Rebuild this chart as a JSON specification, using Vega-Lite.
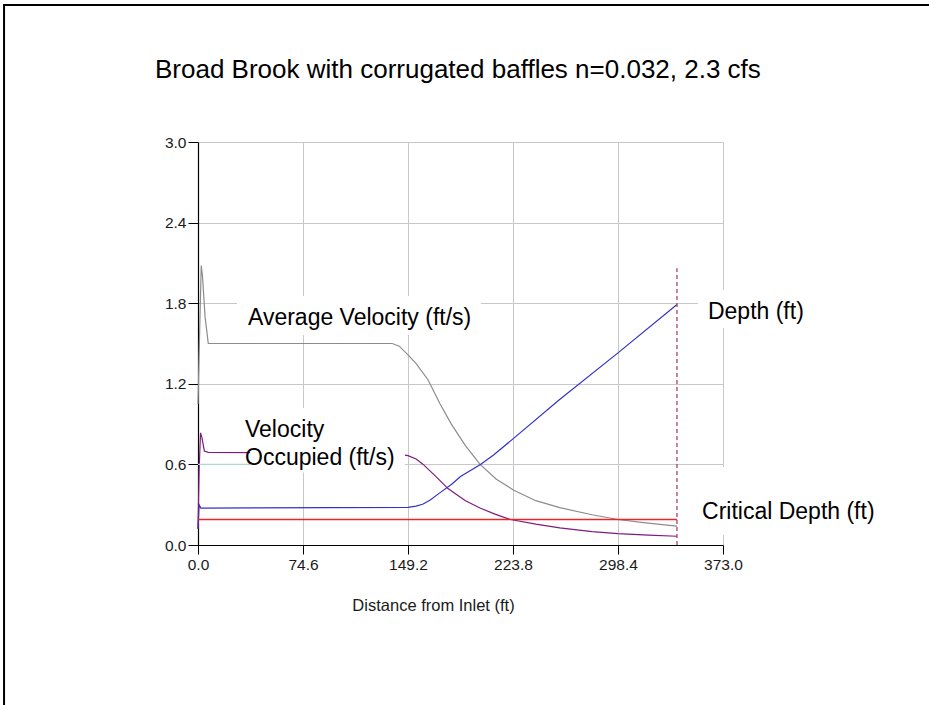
{
  "$schema": "https://vega.github.io/schema/vega-lite/v6.json",
  "width": 525,
  "height": 403,
  "autosize": {"type": "none"},
  "padding": {"left": 198, "top": 142, "right": 206, "bottom": 160},
  "background": "white",
  "config": {
    "view": {"stroke": null},
    "font": "Liberation Sans"
  },
  "title": {
    "text": "Broad Brook with corrugated baffles n=0.032, 2.3 cfs",
    "font": "Liberation Sans",
    "fontSize": 26,
    "fontWeight": "normal",
    "color": "#000",
    "anchor": "start",
    "frame": "group",
    "dx": -43,
    "baseline": "alphabetic",
    "offset": -100
  },
  "datasets": {
    "lines": [
      {"dist": 0, "val": 1.05, "s": "avg"},
      {"dist": 1.2, "val": 1.6, "s": "avg"},
      {"dist": 2.3, "val": 2.08, "s": "avg"},
      {"dist": 3.2, "val": 2.0, "s": "avg"},
      {"dist": 5, "val": 1.7, "s": "avg"},
      {"dist": 7.3, "val": 1.5, "s": "avg"},
      {"dist": 138, "val": 1.5, "s": "avg"},
      {"dist": 143, "val": 1.48, "s": "avg"},
      {"dist": 149.2, "val": 1.415, "s": "avg"},
      {"dist": 155, "val": 1.35, "s": "avg"},
      {"dist": 163.4, "val": 1.23, "s": "avg"},
      {"dist": 172, "val": 1.05, "s": "avg"},
      {"dist": 180, "val": 0.9, "s": "avg"},
      {"dist": 190, "val": 0.74, "s": "avg"},
      {"dist": 200.4, "val": 0.6, "s": "avg"},
      {"dist": 212, "val": 0.49, "s": "avg"},
      {"dist": 224, "val": 0.41, "s": "avg"},
      {"dist": 240, "val": 0.33, "s": "avg"},
      {"dist": 257, "val": 0.278, "s": "avg"},
      {"dist": 280, "val": 0.225, "s": "avg"},
      {"dist": 298.4, "val": 0.19, "s": "avg"},
      {"dist": 318, "val": 0.165, "s": "avg"},
      {"dist": 340.3, "val": 0.14, "s": "avg"},
      {"dist": 0, "val": 0.12, "s": "depth"},
      {"dist": 0.8, "val": 0.3, "s": "depth"},
      {"dist": 2, "val": 0.275, "s": "depth"},
      {"dist": 149.2, "val": 0.28, "s": "depth"},
      {"dist": 155, "val": 0.29, "s": "depth"},
      {"dist": 160, "val": 0.305, "s": "depth"},
      {"dist": 165, "val": 0.335, "s": "depth"},
      {"dist": 172, "val": 0.39, "s": "depth"},
      {"dist": 180, "val": 0.45, "s": "depth"},
      {"dist": 186.5, "val": 0.51, "s": "depth"},
      {"dist": 200.7, "val": 0.6, "s": "depth"},
      {"dist": 210, "val": 0.67, "s": "depth"},
      {"dist": 223.8, "val": 0.79, "s": "depth"},
      {"dist": 256.5, "val": 1.08, "s": "depth"},
      {"dist": 298.4, "val": 1.43, "s": "depth"},
      {"dist": 340.3, "val": 1.79, "s": "depth"},
      {"dist": 0, "val": 0.12, "s": "vel"},
      {"dist": 0.8, "val": 0.56, "s": "vel"},
      {"dist": 1.8, "val": 0.835, "s": "vel"},
      {"dist": 2.8, "val": 0.8, "s": "vel"},
      {"dist": 4.5, "val": 0.7, "s": "vel"},
      {"dist": 7.3, "val": 0.69, "s": "vel"},
      {"dist": 140, "val": 0.68, "s": "vel"},
      {"dist": 149.2, "val": 0.665, "s": "vel"},
      {"dist": 155, "val": 0.64, "s": "vel"},
      {"dist": 160, "val": 0.6, "s": "vel"},
      {"dist": 165, "val": 0.55, "s": "vel"},
      {"dist": 170, "val": 0.5, "s": "vel"},
      {"dist": 177.6, "val": 0.42, "s": "vel"},
      {"dist": 190, "val": 0.33, "s": "vel"},
      {"dist": 200.4, "val": 0.275, "s": "vel"},
      {"dist": 211, "val": 0.23, "s": "vel"},
      {"dist": 222, "val": 0.19, "s": "vel"},
      {"dist": 240, "val": 0.155, "s": "vel"},
      {"dist": 257, "val": 0.127, "s": "vel"},
      {"dist": 280, "val": 0.1, "s": "vel"},
      {"dist": 298.4, "val": 0.085, "s": "vel"},
      {"dist": 320, "val": 0.073, "s": "vel"},
      {"dist": 340.3, "val": 0.065, "s": "vel"},
      {"dist": 0, "val": 0.6, "s": "mark"},
      {"dist": 37, "val": 0.6, "s": "mark"}
    ],
    "crit": [
      {"dist": 0, "val": 0.19},
      {"dist": 340.3, "val": 0.19}
    ],
    "boxes": [
      {"x": 27.7, "x2": 201, "y": 1.563, "y2": 1.854},
      {"x": 37, "x2": 147, "y": 0.54, "y2": 1.02},
      {"x": 355.2, "x2": 430, "y": 1.615, "y2": 1.898},
      {"x": 357, "x2": 520, "y": 0.075, "y2": 0.58}
    ],
    "labels": [
      {"x": 35.5, "y": 1.69, "t": "Average Velocity (ft/s)"},
      {"x": 33.4, "y": 0.856, "t": "Velocity"},
      {"x": 33.4, "y": 0.648, "t": "Occupied (ft/s)"},
      {"x": 362.3, "y": 1.735, "t": "Depth (ft)"},
      {"x": 358.1, "y": 0.246, "t": "Critical Depth (ft)"}
    ],
    "outlet": [
      {"x": 340.3, "y": 0, "y2": 2.06}
    ],
    "frame": [
      {"x": -137.8, "x2": 700, "y": 4.02, "y2": -3}
    ]
  },
  "layer": [
    {
      "data": {"name": "lines"},
      "mark": {"type": "line", "strokeWidth": 1.2, "interpolate": "linear"},
      "encoding": {
        "x": {
          "field": "dist",
          "type": "quantitative",
          "scale": {"domain": [0, 373], "nice": false, "zero": false},
          "axis": {
            "values": [0, 74.6, 149.2, 223.8, 298.4, 373],
            "format": ".1f",
            "grid": true,
            "gridColor": "#c8c8c8",
            "gridWidth": 1,
            "domainColor": "#000",
            "domainWidth": 1.2,
            "tickColor": "#000",
            "tickSize": 9,
            "labelFont": "Liberation Sans",
            "labelFontSize": 15.5,
            "labelColor": "#1a1a1a",
            "labelPadding": 3,
            "labelFlush": false,
            "labelOverlap": false,
            "title": "Distance from Inlet (ft)",
            "titleFont": "Liberation Sans",
            "titleFontSize": 16.5,
            "titleFontWeight": "normal",
            "titleColor": "#1a1a1a",
            "titleX": 235,
            "titleY": 60,
            "titleBaseline": "middle"
          }
        },
        "y": {
          "field": "val",
          "type": "quantitative",
          "scale": {"domain": [0, 3], "nice": false},
          "axis": {
            "values": [0, 0.6, 1.2, 1.8, 2.4, 3.0],
            "format": ".1f",
            "grid": true,
            "gridColor": "#c8c8c8",
            "gridWidth": 1,
            "domainColor": "#000",
            "domainWidth": 1.2,
            "tickColor": "#000",
            "tickSize": 10,
            "labelFont": "Liberation Sans",
            "labelFontSize": 15.5,
            "labelColor": "#1a1a1a",
            "labelPadding": 2,
            "labelFlush": false,
            "labelOverlap": false,
            "title": null
          }
        },
        "color": {
          "field": "s",
          "type": "nominal",
          "scale": {
            "domain": ["avg", "depth", "vel", "mark"],
            "range": ["#8c8c8c", "#3232c8", "#801a80", "#a8dccf"]
          },
          "legend": null
        },
        "order": {"field": "dist", "type": "quantitative"}
      }
    },
    {
      "data": {"name": "crit"},
      "mark": {"type": "line", "color": "#e8262a", "strokeWidth": 1.6},
      "encoding": {
        "x": {"field": "dist", "type": "quantitative"},
        "y": {"field": "val", "type": "quantitative"}
      }
    },
    {
      "data": {"name": "outlet"},
      "mark": {"type": "rule", "color": "#a8305a", "strokeDash": [4, 3], "strokeWidth": 1.2},
      "encoding": {
        "x": {"field": "x", "type": "quantitative"},
        "y": {"field": "y", "type": "quantitative"},
        "y2": {"field": "y2"}
      }
    },
    {
      "data": {"name": "boxes"},
      "mark": {"type": "rect", "fill": "white", "stroke": null},
      "encoding": {
        "x": {"field": "x", "type": "quantitative"},
        "x2": {"field": "x2"},
        "y": {"field": "y", "type": "quantitative"},
        "y2": {"field": "y2"}
      }
    },
    {
      "data": {"name": "labels"},
      "mark": {"type": "text", "align": "left", "baseline": "middle", "font": "Liberation Sans", "fontSize": 23, "color": "#000"},
      "encoding": {
        "x": {"field": "x", "type": "quantitative"},
        "y": {"field": "y", "type": "quantitative"},
        "text": {"field": "t"}
      }
    },
    {
      "data": {"name": "frame"},
      "mark": {"type": "rect", "fill": null, "fillOpacity": 0, "stroke": "#000", "strokeWidth": 2},
      "encoding": {
        "x": {"field": "x", "type": "quantitative"},
        "x2": {"field": "x2"},
        "y": {"field": "y", "type": "quantitative"},
        "y2": {"field": "y2"}
      }
    }
  ]
}
